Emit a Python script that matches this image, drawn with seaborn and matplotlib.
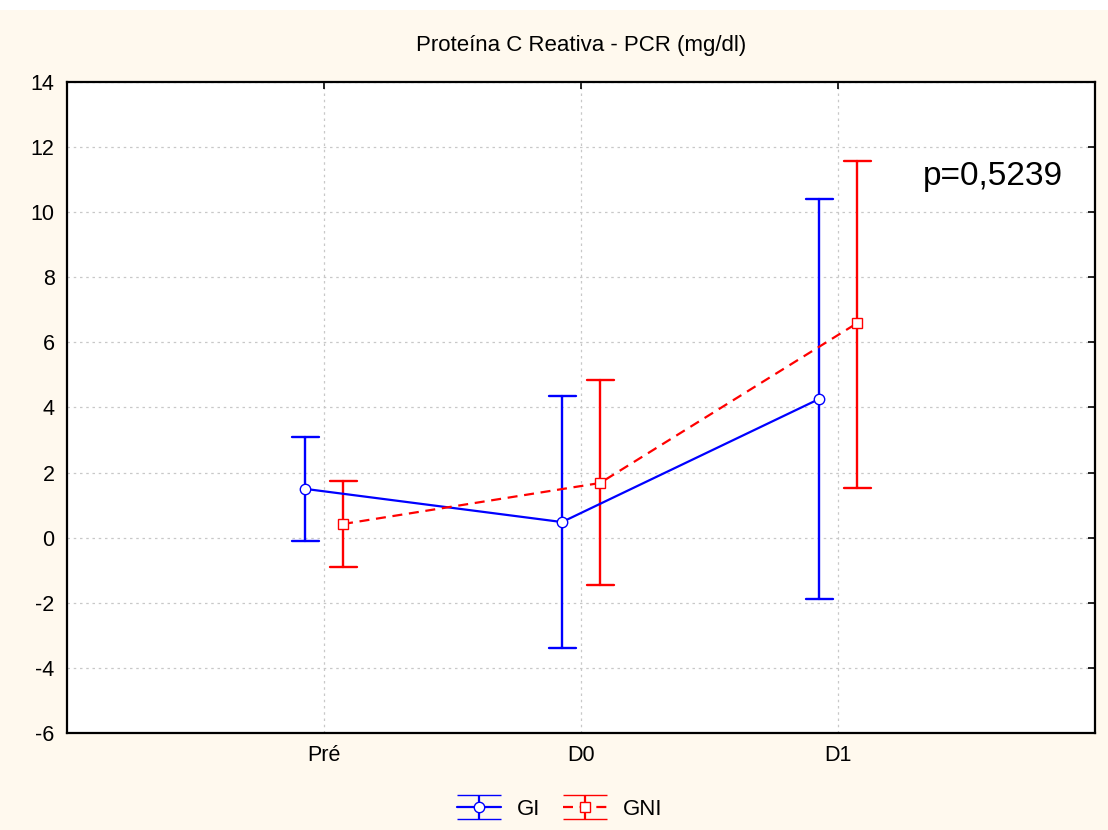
import pandas as pd
import numpy as np
import matplotlib.pyplot as plt
import seaborn as sns
from matplotlib.legend_handler import HandlerErrorbar

# Summary values (mean and interval limits)
stages = ["Pré", "D0", "D1"]
groups = ["GI", "GNI"]
gi_mean = [1.50, 0.48, 4.26]
gi_low = [-0.10, -3.39, -1.88]
gi_high = [3.09, 4.35, 10.40]
gni_mean = [0.42, 1.68, 6.59]
gni_low = [-0.90, -1.45, 1.53]
gni_high = [1.74, 4.84, 11.58]
p_text = "p=0,5239"

# Long table: lower, mean, upper per cell -> median = mean, min/max = limits
rows = []
for g, means, lows, highs in [("GI", gi_mean, gi_low, gi_high),
                              ("GNI", gni_mean, gni_low, gni_high)]:
    for s, m, lo, hi in zip(stages, means, lows, highs):
        for v in (lo, m, hi):
            rows.append({"Grupo": g, "Momento": s, "PCR": v})
df = pd.DataFrame(rows)

sns.set_style("white")
plt.rcParams["font.family"] = ["Liberation Sans", "DejaVu Sans"]
plt.rcParams["axes.unicode_minus"] = False
plt.rcParams["text.color"] = "black"

cream = "#fff9ee"
fig = plt.figure(figsize=(11.08, 8.3), dpi=100, facecolor=cream)
fig.patches.append(plt.Rectangle((0, 0.988), 1, 0.012, transform=fig.transFigure,
                                 facecolor="white", edgecolor="none", zorder=0))
ax = fig.add_axes([0.0605, 0.1169, 0.9278, 0.7843])
ax.set_facecolor("white")

colors = {"GI": "#0000ff", "GNI": "#ff0000"}
sns.pointplot(data=df, x="Momento", y="PCR", hue="Grupo", order=stages,
              hue_order=groups, palette=colors, estimator="median",
              errorbar=lambda v: (v.min(), v.max()), dodge=0.148,
              markers=["o", "s"], linestyles=["-", "--"], capsize=0.105,
              err_kws={"linewidth": 1.7}, legend=False, ax=ax)

for ln in ax.lines:
    if ln.get_marker() not in (None, "None", "", " "):
        ln.set_markerfacecolor("white")
        ln.set_markersize(7.5)
        ln.set_markeredgewidth(1)
        ln.set_linewidth(1.6)
        ln.set_zorder(5)
        if ln.get_linestyle() == "--":
            ln.set_dashes((4.5, 3))

ax.set_xlim(-1, 3)
ax.set_ylim(-6, 14)
ax.set_yticks(np.arange(-6, 15, 2))
ax.set_xlabel("")
ax.set_ylabel("")
ax.grid(True, color="#c8c8c8", linestyle=(0, (2, 3)), linewidth=0.9)
ax.set_axisbelow(True)
for sp in ax.spines.values():
    sp.set_color("black")
    sp.set_linewidth(1.6)
ax.tick_params(direction="in", length=5, width=1.2, top=True, right=True,
               labelsize=15.5, colors="black", pad=9)

ax.set_title("Proteína C Reativa - PCR (mg/dl)", fontsize=16, pad=22, color="black")
ax.text(2.33, 11.1, p_text, fontsize=24, ha="left", va="center", color="black")

# Legend with errorbar-style handles (nan data so nothing shows in the plot)
h1 = ax.errorbar([np.nan], [np.nan], yerr=[1], color=colors["GI"], marker="o",
                 mfc="white", mew=1, ms=7.5, lw=1.6, capsize=16, capthick=1.6,
                 label="GI")
h2 = ax.errorbar([np.nan], [np.nan], yerr=[1], color=colors["GNI"], marker="s",
                 mfc="white", mew=1, ms=7.5, lw=1.6, ls="--", capsize=16,
                 capthick=1.6, label="GNI")
h2.lines[0].set_dashes((4.5, 3))
fig.legend(handles=[h1, h2], labels=groups, loc="lower center",
           bbox_to_anchor=(0.505, -0.012), ncol=2, frameon=False, fontsize=16,
           handlelength=2.0, handletextpad=0.7, columnspacing=1.0,
           handler_map={type(h1): HandlerErrorbar(yerr_size=0.55)})

plt.savefig("out.png", dpi=100, facecolor=cream)
